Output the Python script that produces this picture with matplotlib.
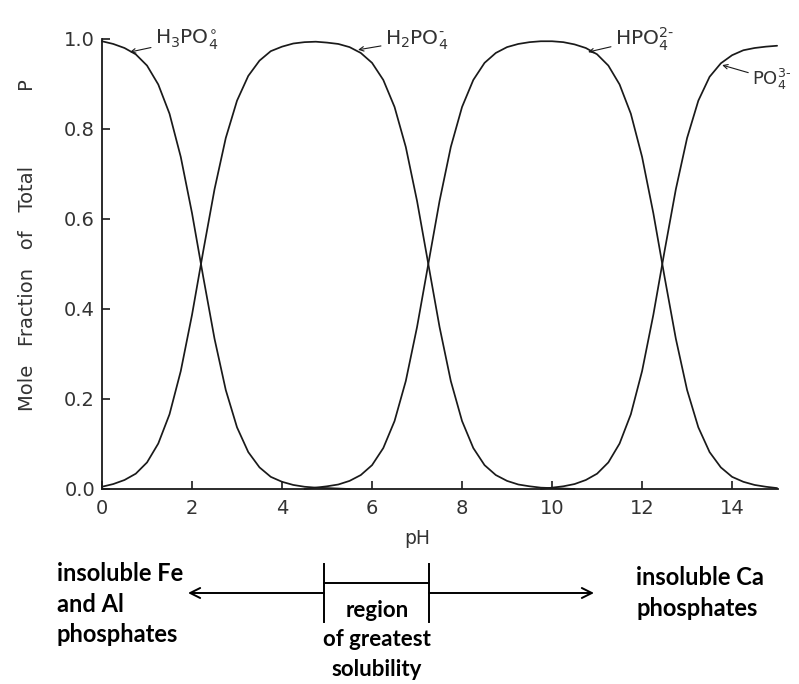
import matplotlib
matplotlib.use("Agg")
import matplotlib.pyplot as plt
from matplotlib.lines import Line2D

# ---------- data ----------
ph_h3po4 = [0.0, 0.25, 0.5, 0.75, 1.0, 1.25, 1.5, 1.75, 2.0, 2.25, 2.5, 2.75,
            3.0, 3.25, 3.5, 3.75, 4.0, 4.25, 4.5, 4.75, 5.0, 5.25, 5.5]
h3po4 = [0.995, 0.989, 0.980, 0.966, 0.941, 0.899, 0.834, 0.738, 0.613, 0.471,
         0.334, 0.220, 0.137, 0.082, 0.048, 0.027, 0.016, 0.009, 0.005, 0.003,
         0.002, 0.001, 0.0]

ph_h2po4 = [0.0, 0.25, 0.5, 0.75, 1.0, 1.25, 1.5, 1.75, 2.0, 2.25, 2.5, 2.75,
            3.0, 3.25, 3.5, 3.75, 4.0, 4.25, 4.5, 4.75, 5.0, 5.25, 5.5, 5.75,
            6.0, 6.25, 6.5, 6.75, 7.0, 7.25, 7.5, 7.75, 8.0, 8.25, 8.5, 8.75,
            9.0, 9.25, 9.5, 9.75, 10.0, 10.25, 10.5]
h2po4 = [0.005, 0.011, 0.020, 0.034, 0.059, 0.101, 0.166, 0.262, 0.387, 0.529,
         0.666, 0.780, 0.863, 0.918, 0.952, 0.973, 0.983, 0.990, 0.993, 0.994,
         0.992, 0.989, 0.982, 0.969, 0.947, 0.909, 0.849, 0.760, 0.640, 0.500,
         0.360, 0.240, 0.151, 0.091, 0.053, 0.031, 0.018, 0.010, 0.006, 0.003,
         0.002, 0.001, 0.0]

ph_hpo4 = [4.5, 4.75, 5.0, 5.25, 5.5, 5.75, 6.0, 6.25, 6.5, 6.75, 7.0, 7.25,
           7.5, 7.75, 8.0, 8.25, 8.5, 8.75, 9.0, 9.25, 9.5, 9.75, 10.0, 10.25,
           10.5, 10.75, 11.0, 11.25, 11.5, 11.75, 12.0, 12.25, 12.5, 12.75,
           13.0, 13.25, 13.5, 13.75, 14.0, 14.25, 14.5, 14.75, 15.0]
hpo4 = [0.0, 0.003, 0.006, 0.010, 0.018, 0.031, 0.053, 0.091, 0.151, 0.240,
        0.360, 0.500, 0.640, 0.760, 0.849, 0.909, 0.947, 0.969, 0.982, 0.989,
        0.993, 0.995, 0.995, 0.993, 0.988, 0.980, 0.966, 0.941, 0.899, 0.834,
        0.738, 0.613, 0.471, 0.334, 0.220, 0.137, 0.082, 0.048, 0.027, 0.016,
        0.009, 0.005, 0.002]

ph_po4 = [9.75, 10.0, 10.25, 10.5, 10.75, 11.0, 11.25, 11.5, 11.75, 12.0,
          12.25, 12.5, 12.75, 13.0, 13.25, 13.5, 13.75, 14.0, 14.25, 14.5,
          14.75, 15.0]
po4 = [0.0, 0.003, 0.006, 0.011, 0.020, 0.034, 0.059, 0.101, 0.166, 0.262,
       0.387, 0.529, 0.666, 0.780, 0.863, 0.916, 0.946, 0.964, 0.975, 0.980,
       0.983, 0.985]

x_ticks = [0, 2, 4, 6, 8, 10, 12, 14]
y_ticks = [0.0, 0.2, 0.4, 0.6, 0.8, 1.0]

W, H = 799, 684


def px(x, y):
    # pixel position -> figure fraction
    return x / W, 1 - y / H


fig = plt.figure(figsize=(W / 100, H / 100), dpi=100)
ax = fig.add_axes([102 / W, 1 - 489 / H, 676 / W, 450 / H])

ink = "#1a1a1a"
grey = "#333333"
for xs, ys in [(ph_h3po4, h3po4), (ph_h2po4, h2po4), (ph_hpo4, hpo4), (ph_po4, po4)]:
    ax.plot(xs, ys, color=ink, lw=1.25, clip_on=False, solid_capstyle="round")

ax.set_xlim(0, 15.02)
ax.set_ylim(0, 1.0)
ax.spines["top"].set_visible(False)
ax.spines["right"].set_visible(False)
for s in ["left", "bottom"]:
    ax.spines[s].set_linewidth(1.3)
    ax.spines[s].set_color(ink)

ax.set_xticks(x_ticks)
ax.set_xticklabels([str(t) for t in x_ticks])
ax.set_yticks(y_ticks)
ax.set_yticklabels([f"{t:.1f}" for t in y_ticks])
ax.tick_params(direction="in", length=6, width=1.2, color=ink,
               labelsize=14, labelcolor=grey)
ax.tick_params(axis="x", pad=7)
ax.tick_params(axis="y", pad=5)

# species labels with little arrows
lab_kw = dict(color=grey, ha="left", va="center",
              arrowprops=dict(arrowstyle="->", lw=0.8, color=ink,
                              shrinkA=1, shrinkB=0, mutation_scale=8),
              annotation_clip=False)
ax.annotate(r"H$_3$PO$_4^{\circ}$", xy=(0.62, 0.971), xytext=(1.18, 0.998),
            fontsize=14.5, **lab_kw)
ax.annotate(r"H$_2$PO$_4^{\text{-}}$", xy=(5.69, 0.976), xytext=(6.29, 0.998),
            fontsize=14.5, **lab_kw)
ax.annotate(r"HPO$_4^{2\text{-}}$", xy=(10.8, 0.971), xytext=(11.4, 1.0),
            fontsize=14.5, **lab_kw)
ax.annotate(r"PO$_4^{3\text{-}}$", xy=(13.78, 0.942), xytext=(14.45, 0.91),
            fontsize=13, **lab_kw)

# axis titles
fig.text(*px(417, 538), "pH", fontsize=13.5, color=grey, ha="center", va="center")
fig.text(*px(28, 245), "Mole   Fraction   of   Total            P", fontsize=14,
         color=grey, rotation=90, ha="center", va="center")

# solubility annotation under the chart
bold = dict(family="Lato", fontweight="bold", color="black")
fig.text(*px(57, 604), "insoluble Fe\nand Al\nphosphates", ha="left", va="center",
         linespacing=1.40, fontsize=17, **bold)
fig.text(*px(636, 593), "insoluble Ca\nphosphates", ha="left", va="center",
         linespacing=1.40, fontsize=17, **bold)
fig.text(*px(377, 640), "region\nof greatest\nsolubility", ha="center", va="center",
         linespacing=1.52, fontsize=16, **bold)

arr = dict(arrowstyle="->", lw=1.4, color="black", mutation_scale=18,
           shrinkA=0, shrinkB=0)
fig.add_artist(plt.Annotation("", xy=px(188, 593), xytext=px(324, 593),
                              xycoords="figure fraction", textcoords="figure fraction",
                              arrowprops=arr))
fig.add_artist(plt.Annotation("", xy=px(594, 593), xytext=px(429, 593),
                              xycoords="figure fraction", textcoords="figure fraction",
                              arrowprops=arr))
for xa in (324, 429):
    x0, y0 = px(xa, 564)
    _, y1 = px(xa, 622)
    fig.add_artist(Line2D([x0, x0], [y0, y1], color="black", lw=1.4, transform=fig.transFigure))
xa, ya = px(324, 583)
xb, _ = px(429, 583)
fig.add_artist(Line2D([xa, xb], [ya, ya], color="black", lw=1.4, transform=fig.transFigure))

fig.savefig("out.png", dpi=100, facecolor="white")
